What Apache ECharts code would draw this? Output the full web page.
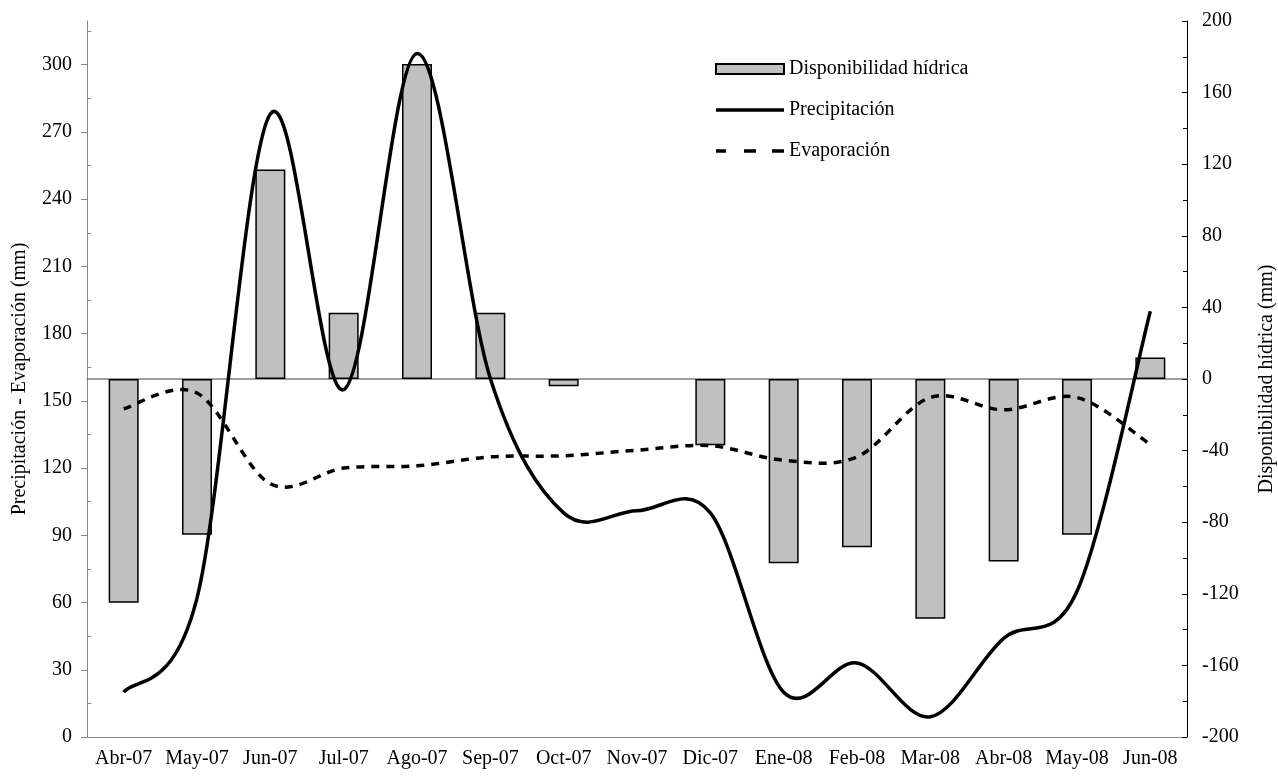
<!DOCTYPE html>
<html>
<head>
<meta charset="utf-8">
<script src="https://cdn.jsdelivr.net/npm/echarts@6/dist/echarts.min.js"></script>
<style>
  html, body { margin: 0; padding: 0; background: #fff; }
  #chart { width: 1278px; height: 776px; }
</style>
</head>
<body>
<div id="chart"></div>
<script>
// months on the x axis
const months = ['Abr-07', 'May-07', 'Jun-07', 'Jul-07', 'Ago-07', 'Sep-07', 'Oct-07', 'Nov-07',
  'Dic-07', 'Ene-08', 'Feb-08', 'Mar-08', 'Abr-08', 'May-08', 'Jun-08'];

// bars, right axis (mm)
const disponibilidad = [-125, -87, 117, 37, 176, 37, -4, null, -37, -103, -94, -134, -102, -87, 12];
// lines, left axis (mm)
const precipitacion = [20, 62, 278, 155, 305, 160, 100, 101, 100, 20, 33, 9, 44, 65, 190];
const evaporacion = [146.5, 153.5, 113, 120, 121, 125, 125.5, 128, 130, 123.5, 125, 151.5, 146, 151.5, 130.5];

const leftTicks = [0, 30, 60, 90, 120, 150, 180, 210, 240, 270, 300];
const leftMinorTicks = [15, 45, 75, 105, 135, 165, 195, 225, 255, 285, 315];

const FONT = 'Liberation Serif';
const chart = echarts.init(document.getElementById('chart'));

// excel-like smoothed line (catmull-rom through the points), positions from the axes
function smoothPath(values, api) {
  const pts = values.map((v, i) => api.coord([i, v]));
  let d = 'M' + pts[0][0] + ',' + pts[0][1];
  for (let i = 0; i < pts.length - 1; i++) {
    const p0 = pts[Math.max(i - 1, 0)];
    const p1 = pts[i];
    const p2 = pts[i + 1];
    const p3 = pts[Math.min(i + 2, pts.length - 1)];
    const c1 = [p1[0] + (p2[0] - p0[0]) / 6, p1[1] + (p2[1] - p0[1]) / 6];
    const c2 = [p2[0] - (p3[0] - p1[0]) / 6, p2[1] - (p3[1] - p1[1]) / 6];
    d += ' C' + c1.join(',') + ' ' + c2.join(',') + ' ' + p2.join(',');
  }
  return d;
}

function lineRenderer(values, dash) {
  return function (params, api) {
    if (params.dataIndex !== 0) return null;
    return {
      type: 'path',
      shape: { pathData: smoothPath(values, api) },
      style: { fill: 'none', stroke: '#000', lineWidth: 3.5, lineDash: dash, lineCap: 'butt', lineJoin: 'round' }
    };
  };
}

const option = {
  backgroundColor: '#fff',
  animation: false,
  textStyle: { fontFamily: FONT, color: '#000' },
  grid: { left: 87, right: 91, top: 21, bottom: 39, containLabel: false, outerBoundsMode: 'none' },
  legend: {
    orient: 'vertical',
    left: 715,
    top: 59,
    padding: 0,
    itemWidth: 68,
    itemHeight: 10,
    itemGap: 21,
    textStyle: { fontFamily: FONT, fontSize: 20, color: '#000' },
    data: [
      { name: 'Disponibilidad hídrica', icon: 'rect' },
      { name: 'Precipitación', icon: 'path://M0,0H68V3.5H0Z', itemStyle: { color: '#000', borderWidth: 0 } },
      { name: 'Evaporación', icon: 'path://M0,0H10V3.5H0Z M28,0H40V3.5H28Z M56,0H68V3.5H56Z', itemStyle: { color: '#000', borderWidth: 0 } }
    ]
  },
  xAxis: [
    {
      type: 'category',
      data: months,
      position: 'bottom',
      axisLine: { onZero: false, lineStyle: { color: '#868686', width: 1 } },
      axisTick: { inside: true, length: 6, lineStyle: { color: '#868686' } },
      axisLabel: { interval: 0, margin: 12, fontFamily: FONT, fontSize: 20, color: '#000' },
      splitLine: { show: false }
    },
    {
      // zero line of the right axis
      type: 'category',
      data: months,
      position: 'bottom',
      axisLine: { onZero: true, onZeroAxisIndex: 1, lineStyle: { color: '#808080', width: 1.5 } },
      axisTick: { show: false },
      axisLabel: { show: false },
      splitLine: { show: false }
    }
  ],
  yAxis: [
    {
      type: 'value',
      position: 'left',
      min: 0,
      max: 319.5,
      name: 'Precipitación - Evaporación (mm)',
      nameLocation: 'middle',
      nameRotate: 90,
      nameGap: 57,
      nameTextStyle: { fontFamily: FONT, fontSize: 20, color: '#000' },
      axisLine: { show: true, lineStyle: { color: '#868686', width: 1 } },
      axisTick: { show: true, length: 6, customValues: leftTicks, lineStyle: { color: '#868686' } },
      axisLabel: { margin: 15, customValues: leftTicks, fontFamily: FONT, fontSize: 20, color: '#000' },
      splitLine: { show: false }
    },
    {
      type: 'value',
      position: 'right',
      min: -200,
      max: 200,
      interval: 40,
      name: 'Disponibilidad hídrica (mm)',
      nameLocation: 'middle',
      nameRotate: 90,
      nameGap: 70,
      nameTextStyle: { fontFamily: FONT, fontSize: 20, color: '#000' },
      axisLine: { show: true, lineStyle: { color: '#000', width: 1 } },
      axisTick: { show: true, inside: true, length: 5, lineStyle: { color: '#000' } },
      minorTick: { show: true, splitNumber: 2, length: 4, lineStyle: { color: '#000' } },
      axisLabel: { margin: 15, fontFamily: FONT, fontSize: 20, color: '#000' },
      splitLine: { show: false }
    },
    {
      // inner minor ticks of the left axis
      type: 'value',
      position: 'left',
      min: 0,
      max: 319.5,
      axisLine: { show: false },
      axisTick: { show: true, inside: true, length: 4, customValues: leftMinorTicks, lineStyle: { color: '#868686' } },
      axisLabel: { show: false },
      splitLine: { show: false }
    }
  ],
  series: [
    {
      name: 'Disponibilidad hídrica',
      type: 'bar',
      xAxisIndex: 0,
      yAxisIndex: 1,
      data: disponibilidad,
      barWidth: 30,
      itemStyle: { color: '#c0c0c0', borderColor: '#000', borderWidth: 1.5 },
      z: 2
    },
    {
      name: 'Precipitación',
      type: 'custom',
      xAxisIndex: 0,
      yAxisIndex: 0,
      data: precipitacion.map((v, i) => [i, v]),
      itemStyle: { color: '#000' },
      renderItem: lineRenderer(precipitacion, null),
      z: 3
    },
    {
      name: 'Evaporación',
      type: 'custom',
      xAxisIndex: 0,
      yAxisIndex: 0,
      data: evaporacion.map((v, i) => [i, v]),
      itemStyle: { color: '#000' },
      renderItem: lineRenderer(evaporacion, [8, 7]),
      z: 3
    }
  ]
};

chart.setOption(option);
</script>
</body>
</html>
